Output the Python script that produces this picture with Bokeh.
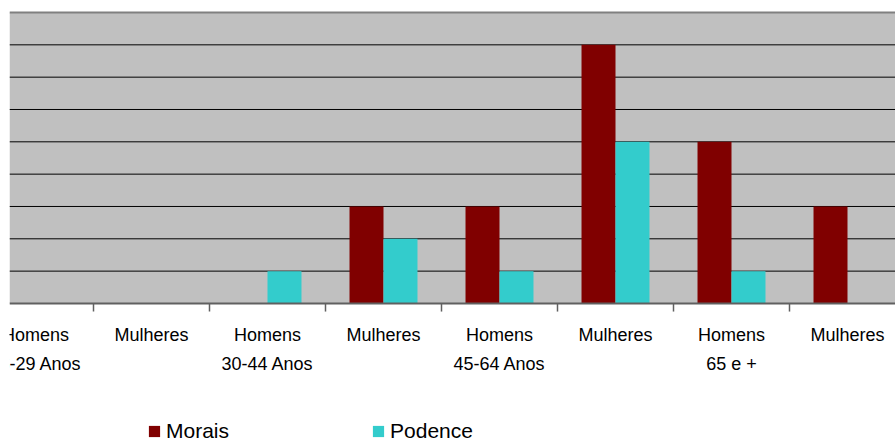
from bokeh.plotting import figure
from bokeh.models import Range1d, Span, BoxAnnotation, Legend, LegendItem
from bokeh.core.properties import value
from bokeh.embed import file_html
from bokeh.resources import INLINE

# ---- data ----
label_line1 = ["Homens", "Mulheres", "Homens", "Mulheres", "Homens", "Mulheres", "Homens", "Mulheres"]
label_line2 = ["18-29 Anos", "", "30-44 Anos", "", "45-64 Anos", "", "65 e +", ""]
morais = [0, 0, 0, 3, 3, 8, 5, 3]
podence = [0, 0, 1, 2, 1, 5, 1, 0]
grid_values = [1, 2, 3, 4, 5, 6, 7, 8]
y_max = 9

n = len(label_line1)
centers = [i + 0.5 for i in range(n)]
boundaries = [i for i in range(n + 1)]

W, H = 895, 443
left_pad = 9
FW = W - left_pad
px_x = 116.0
px_y = 32.33
x_start = 1 - (93 - left_pad) / px_x
x_end = x_start + FW / px_x
y_end = y_max + 12 / px_y
y_start = y_end - H / px_y

p = figure(width=W, height=H, output_backend="svg", toolbar_location=None,
           x_range=Range1d(x_start, x_end), y_range=Range1d(y_start, y_end),
           x_axis_type=None, y_axis_type=None,
           min_border=0, min_border_left=left_pad, outline_line_color=None,
           background_fill_color="white", border_fill_color="white")
p.xgrid.visible = False
p.ygrid.visible = False

# plot area background
p.add_layout(BoxAnnotation(bottom=0, top=y_max, fill_color="#C0C0C0", fill_alpha=1,
                           line_color=None, level="underlay"))
for g in grid_values:
    p.add_layout(Span(location=g, dimension="width", line_color="black",
                      line_width=1, level="underlay"))
p.add_layout(Span(location=y_max, dimension="width", line_color="#808080",
                  line_width=2, level="underlay"))

bw = 0.293
r1 = p.vbar(x=[c - bw / 2 for c in centers], top=morais, width=bw,
            fill_color="#800000", line_color=None)
r2 = p.vbar(x=[c + bw / 2 for c in centers], top=podence, width=bw,
            fill_color="#33CCCC", line_color=None)

# x axis line and ticks
p.add_layout(Span(location=0, dimension="width", line_color="#606060", line_width=2))
p.segment(x0=boundaries, x1=boundaries, y0=[0] * len(boundaries),
          y1=[-0.25] * len(boundaries), line_color="#606060", line_width=1.5)

# category labels
p.text(x=centers, y=[-0.99] * n, text=label_line1, text_align="center",
       text_baseline="middle", text_font=value("Liberation Sans"),
       text_font_size="18px", text_color="black")
p.text(x=centers, y=[-1.86] * n, text=label_line2, text_align="center",
       text_baseline="middle", text_font=value("Liberation Sans"),
       text_font_size="18px", text_color="black")

legend = Legend(items=[LegendItem(label="Morais", renderers=[r1]),
                       LegendItem(label="Podence", renderers=[r2])],
                orientation="horizontal", location=(138, 0),
                glyph_width=14, glyph_height=14, label_standoff=5,
                spacing=142, padding=0, margin=0,
                label_text_font="Liberation Sans", label_text_font_size="21px",
                label_text_color="black",
                border_line_color=None, background_fill_alpha=0)
p.add_layout(legend)

open("out.html", "w").write(file_html(p, INLINE))
